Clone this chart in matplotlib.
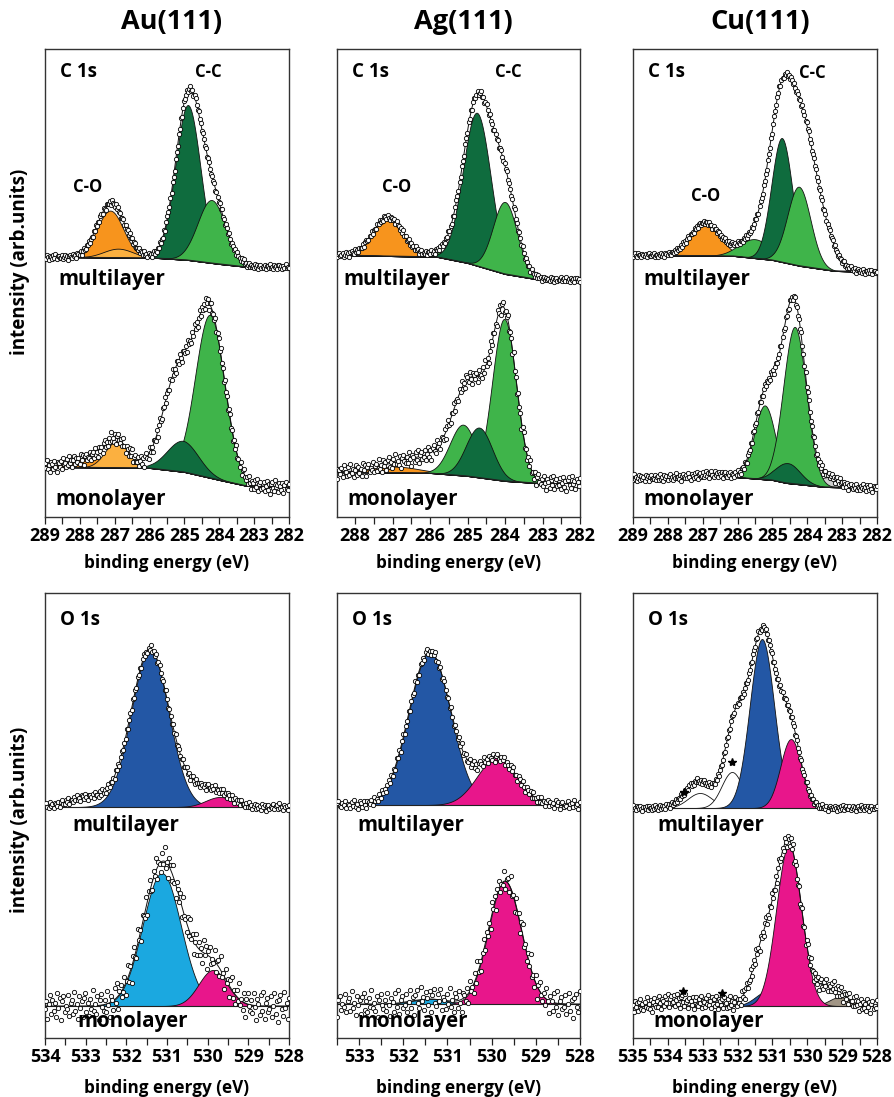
import numpy as np
import matplotlib
matplotlib.use("Agg")
from matplotlib import pyplot as plt
from matplotlib.ticker import MultipleLocator

W, H = 895, 1097

# typed scatter of the measured points around the fit envelope (units of noise level)
scatter = [0.3, -0.5, 0.8, -0.1, -0.9, 0.4, 0.1, -0.6, 0.7, -0.3,
           0.9, -0.8, 0.2, 0.5, -0.4, -0.2, 0.6, -0.7, 0.0, 0.8,
           -0.5, 0.3, -1.0, 0.4, 0.7, -0.2, -0.6, 0.9, -0.1, 0.2,
           -0.8, 0.5, 0.1, -0.4, 0.6, -0.9, 0.3, 0.7, -0.3, -0.5,
           0.4, -0.1, 0.8, -0.7, 0.2, 0.0, -0.6, 0.5, -0.2, 0.9,
           -0.4, 0.1, -0.8, 0.6, 0.3, -0.5, 0.7, -0.2, -0.9, 0.4,
           0.2, -0.3, 0.5, -0.7, 0.8, -0.1, 0.0, -0.6, 0.6, -0.4,
           0.9, -0.2, 0.3, -0.8, 0.1, 0.7, -0.5, 0.4, -0.3, 0.2,
           -0.7, 0.8, -0.1, 0.5, -0.9, 0.3, 0.6, -0.4, 0.0, -0.2,
           0.7, -0.6, 0.2, 0.4, -0.5, 0.9, -0.3, 0.1, -0.8, 0.6,
           -0.1, 0.3, -0.7, 0.5, 0.8, -0.4, 0.2, -0.6, 0.4, -0.2,
           1.0, -0.3, 0.1, -0.5, 0.6, -0.9, 0.3, 0.7, -0.1, -0.4]

substrates = ["Au(111)", "Ag(111)", "Cu(111)"]
c_xlims = [(289, 282), (288.48, 282), (289, 282)]
o_xlims = [(534, 528), (533.5, 528), (535, 528)]

# ---- C 1s ----
au_c_ml_bg_e = [289.0, 285.8, 284.9, 284.0, 283.2, 282.0]
au_c_ml_bg_y = [260, 259, 257, 253, 250, 250]
au_c_ml_kind = ["CO", "CO2", "CC", "CC2"]
au_c_ml_pos = [287.13, 286.9, 284.9, 284.22]
au_c_ml_amp = [47, 9, 155, 63]
au_c_ml_wid = [0.38, 0.42, 0.36, 0.40]

au_c_mo_bg_e = [289.0, 286.0, 285.0, 284.0, 283.2, 282.0]
au_c_mo_bg_y = [50, 49, 45, 37, 31, 30]
au_c_mo_kind = ["CO", "CO2", "fit", "CC2", "CC"]
au_c_mo_pos = [287.7, 286.95, 285.25, 284.27, 285.05]
au_c_mo_amp = [9, 26, 65, 163, 31]
au_c_mo_wid = [0.55, 0.33, 0.40, 0.42, 0.45]

ag_c_ml_bg_e = [288.5, 285.8, 285.0, 284.0, 283.2, 282.0]
ag_c_ml_bg_y = [262, 260, 254, 243, 238, 237]
ag_c_ml_kind = ["CO", "CC2", "CC", "fit", "CC2"]
ag_c_ml_pos = [287.12, 285.39, 284.75, 284.3, 284.0]
ag_c_ml_amp = [39, 7, 153, 22, 72]
ag_c_ml_wid = [0.40, 0.45, 0.37, 0.40, 0.32]

ag_c_mo_bg_e = [288.5, 286.0, 285.0, 284.0, 283.2, 282.0]
ag_c_mo_bg_y = [45, 44, 41, 36, 34, 34]
ag_c_mo_kind = ["CO", "fit", "CC2", "CC2", "CC"]
ag_c_mo_pos = [286.9, 285.6, 285.12, 284.02, 284.69]
ag_c_mo_amp = [6, 18, 51, 162, 50]
ag_c_mo_wid = [0.60, 0.80, 0.35, 0.32, 0.35]

cu_c_ml_bg_e = [289.0, 286.1, 285.0, 284.2, 283.2, 282.0]
cu_c_ml_bg_y = [262, 261, 257, 251, 246, 245]
cu_c_ml_kind = ["CO", "CC2", "fit", "CC", "fit", "CC2"]
cu_c_ml_pos = [286.94, 285.5, 285.1, 284.73, 283.9, 284.24]
cu_c_ml_amp = [33, 19, 30, 124, 75, 79]
cu_c_ml_wid = [0.42, 0.45, 0.30, 0.30, 0.45, 0.33]

cu_c_mo_bg_e = [289.0, 286.1, 285.0, 284.6, 283.5, 282.0]
cu_c_mo_bg_y = [39, 40, 37, 34, 30, 29]
cu_c_mo_kind = ["CO", "CC2", "fit", "G", "CC2", "CC"]
cu_c_mo_pos = [286.7, 285.22, 284.8, 283.4, 284.36, 284.56]
cu_c_mo_amp = [3, 74, 20, 10, 157, 20]
cu_c_mo_wid = [0.50, 0.30, 0.35, 0.30, 0.33, 0.35]

# ---- O 1s ----
au_o_ml_bg_e = [534.0, 528.0]
au_o_ml_bg_y = [231, 231]
au_o_ml_kind = ["fit", "O", "fit", "OM"]
au_o_ml_pos = [532.9, 531.42, 530.3, 529.7]
au_o_ml_amp = [10, 157, 15, 10]
au_o_ml_wid = [0.50, 0.46, 0.45, 0.35]

au_o_mo_bg_e = [534.0, 528.0]
au_o_mo_bg_y = [32, 32]
au_o_mo_kind = ["O2", "fit", "OM"]
au_o_mo_pos = [531.13, 530.6, 529.87]
au_o_mo_amp = [133, 20, 36]
au_o_mo_wid = [0.47, 0.50, 0.35]

ag_o_ml_bg_e = [533.5, 528.0]
ag_o_ml_bg_y = [233, 233]
ag_o_ml_kind = ["O", "OM"]
ag_o_ml_pos = [531.4, 529.88]
ag_o_ml_amp = [153, 47]
ag_o_ml_wid = [0.47, 0.45]

ag_o_mo_bg_e = [533.5, 528.0]
ag_o_mo_bg_y = [34, 34]
ag_o_mo_kind = ["O2", "OM"]
ag_o_mo_pos = [531.4, 529.7]
ag_o_mo_amp = [5, 123]
ag_o_mo_wid = [0.40, 0.37]

cu_o_ml_bg_e = [535.0, 528.0]
cu_o_ml_bg_y = [230, 230]
cu_o_ml_kind = ["fit", "sat", "sat", "fit", "O", "fit", "OM"]
cu_o_ml_pos = [533.2, 533.08, 532.16, 532.0, 531.3, 530.8, 530.47]
cu_o_ml_amp = [12, 15, 36, 50, 169, 25, 69]
cu_o_ml_wid = [0.40, 0.35, 0.30, 0.30, 0.35, 0.30, 0.30]
cu_o_ml_star = [533.55, 532.15]

cu_o_mo_bg_e = [535.0, 528.0]
cu_o_mo_bg_y = [32, 32]
cu_o_mo_kind = ["sat", "sat", "fit", "O", "fit", "OX", "OM"]
cu_o_mo_pos = [533.8, 532.7, 531.3, 531.13, 529.5, 529.07, 530.53]
cu_o_mo_amp = [6, 4, 40, 15, 15, 9, 161]
cu_o_mo_wid = [0.40, 0.40, 0.30, 0.35, 0.30, 0.30, 0.36]
cu_o_mo_star = [533.57, 532.45]

# noise level of the points for each spectrum
noise_c_ml = [3, 3, 2.5]
noise_c_mo = [7, 8, 4]
noise_o_ml = [4, 5, 3]
noise_o_mo = [16, 14, 8]

colors = {"CO": "#f7941d", "CO2": "#fbb040", "CC": "#0f6c3e", "CC2": "#3fb44a",
          "O": "#2357a5", "O2": "#1ba8e0", "OM": "#e8168b", "OX": "#a19585",
          "G": "#cfcfcf", "sat": "white"}

plt.rcParams['font.family'] = ['Open Sans', 'DejaVu Sans']
plt.rcParams['font.weight'] = 'bold'


def gauss(e, pos, amp, wid):
    return amp * np.exp(-(e - pos) ** 2 / (2 * wid ** 2))


def draw_spectrum(ax, xlim, bg_e, bg_y, kind, pos, amp, wid, noise, shift, stars=None):
    e = np.linspace(xlim[1], xlim[0], 800)
    bg = np.interp(e, bg_e[::-1], bg_y[::-1])
    total = np.zeros_like(e)
    sat = np.zeros_like(e)
    for k, p, a, w in zip(kind, pos, amp, wid):
        g = gauss(e, p, a, w)
        total += g
        if k == "fit":
            continue
        if k == "sat":
            sat += g
        ax.fill_between(e, bg, bg + g, facecolor=colors[k], edgecolor="#111111",
                        linewidth=0.6, zorder=1)
    ax.plot(e, bg, color="#222222", lw=0.8, zorder=2)
    ax.plot(e, bg + total, color="#111111", lw=0.7, zorder=3)

    ed = np.arange(xlim[0], xlim[1] - 1e-6, -0.03)
    env = np.interp(ed, e, bg + total)
    res = np.array([scatter[(i + shift) % len(scatter)] for i in range(len(ed))])
    ax.plot(ed, env + noise * res, 'o', ms=3.1, mfc='white', mec='black',
            mew=0.6, zorder=4)

    if stars is not None:
        se = np.array(stars)
        sy = np.interp(se, e, bg + sat) + 10
        ax.plot(se, sy, '*', ms=6, color='black', zorder=5)


fig = plt.figure(figsize=(W / 100, H / 100), dpi=100)

col_left = [45, 337, 633]
col_width = [244, 243, 244]
rows = [(49, 517), (593, 1038)]
xlabel_y = [563, 1088]


def fx(x):
    return x / W


def fy(y):
    return 1 - y / H


c_specs = [
    (au_c_ml_bg_e, au_c_ml_bg_y, au_c_ml_kind, au_c_ml_pos, au_c_ml_amp, au_c_ml_wid,
     au_c_mo_bg_e, au_c_mo_bg_y, au_c_mo_kind, au_c_mo_pos, au_c_mo_amp, au_c_mo_wid),
    (ag_c_ml_bg_e, ag_c_ml_bg_y, ag_c_ml_kind, ag_c_ml_pos, ag_c_ml_amp, ag_c_ml_wid,
     ag_c_mo_bg_e, ag_c_mo_bg_y, ag_c_mo_kind, ag_c_mo_pos, ag_c_mo_amp, ag_c_mo_wid),
    (cu_c_ml_bg_e, cu_c_ml_bg_y, cu_c_ml_kind, cu_c_ml_pos, cu_c_ml_amp, cu_c_ml_wid,
     cu_c_mo_bg_e, cu_c_mo_bg_y, cu_c_mo_kind, cu_c_mo_pos, cu_c_mo_amp, cu_c_mo_wid),
]
o_specs = [
    (au_o_ml_bg_e, au_o_ml_bg_y, au_o_ml_kind, au_o_ml_pos, au_o_ml_amp, au_o_ml_wid,
     au_o_mo_bg_e, au_o_mo_bg_y, au_o_mo_kind, au_o_mo_pos, au_o_mo_amp, au_o_mo_wid),
    (ag_o_ml_bg_e, ag_o_ml_bg_y, ag_o_ml_kind, ag_o_ml_pos, ag_o_ml_amp, ag_o_ml_wid,
     ag_o_mo_bg_e, ag_o_mo_bg_y, ag_o_mo_kind, ag_o_mo_pos, ag_o_mo_amp, ag_o_mo_wid),
    (cu_o_ml_bg_e, cu_o_ml_bg_y, cu_o_ml_kind, cu_o_ml_pos, cu_o_ml_amp, cu_o_ml_wid,
     cu_o_mo_bg_e, cu_o_mo_bg_y, cu_o_mo_kind, cu_o_mo_pos, cu_o_mo_amp, cu_o_mo_wid),
]
o_stars = [(None, None), (None, None), (cu_o_ml_star, cu_o_mo_star)]

for r, (top, bot) in enumerate(rows):
    for c in range(3):
        ax = fig.add_axes([fx(col_left[c]), fy(bot), col_width[c] / W, (bot - top) / H])
        if r == 0:
            xlim = c_xlims[c]
            s = c_specs[c]
            draw_spectrum(ax, xlim, *s[:6], noise_c_ml[c], 11 * c)
            draw_spectrum(ax, xlim, *s[6:], noise_c_mo[c], 11 * c + 47)
        else:
            xlim = o_xlims[c]
            s = o_specs[c]
            draw_spectrum(ax, xlim, *s[:6], noise_o_ml[c], 13 * c + 23, o_stars[c][0])
            draw_spectrum(ax, xlim, *s[6:], noise_o_mo[c], 13 * c + 71, o_stars[c][1])
        ax.set_xlim(*xlim)
        ax.set_ylim(0, bot - top)
        ax.set_yticks([])
        ax.xaxis.set_major_locator(MultipleLocator(1))
        ax.xaxis.set_minor_locator(MultipleLocator(0.5))
        ax.tick_params(axis='x', which='both', direction='out', length=5, width=0.9,
                       color='#222222', labelsize=13, pad=2.5)
        ax.xaxis.set_major_formatter(plt.FuncFormatter(lambda v, p: f"{v:.0f}"))
        for sp in ax.spines.values():
            sp.set_linewidth(1.0)
            sp.set_color('#333333')

        cx = col_left[c] + col_width[c] / 2
        fig.text(fx(cx), fy(xlabel_y[r]), "binding energy (eV)",
                 ha='center', va='center', fontsize=12.3)

# titles
for c in range(3):
    cx = col_left[c] + col_width[c] / 2
    fig.text(fx(cx + 5), fy(22), substrates[c], ha='center', va='center', fontsize=19.5)

# row annotations
for c in range(3):
    x0 = col_left[c] + 15
    fig.text(fx(x0), fy(72), "C 1s", ha='left', va='center', fontsize=13.5)
    fig.text(fx(x0), fy(620), "O 1s", ha='left', va='center', fontsize=13.5)
    fig.text(fx(col_left[c] + [13, 6, 10][c]), fy(280), "multilayer", ha='left', va='center', fontsize=14.8)
    fig.text(fx(col_left[c] + [10, 10, 10][c]), fy(500), "monolayer", ha='left', va='center', fontsize=14.8)
    fig.text(fx(col_left[c] + [27, 20, 24][c]), fy(826), "multilayer", ha='left', va='center', fontsize=14.8)
    fig.text(fx(col_left[c] + [32, 20, 20][c]), fy(1022), "monolayer", ha='left', va='center', fontsize=14.8)

cc_xy = [(208, 72), (508, 72), (812, 73)]
co_xy = [(88, 187), (397, 187), (706, 196)]
for (x, y) in cc_xy:
    fig.text(fx(x), fy(y), "C-C", ha='center', va='center', fontsize=12)
for (x, y) in co_xy:
    fig.text(fx(x), fy(y), "C-O", ha='center', va='center', fontsize=12)

fig.text(fx(20), fy(262), "intensity (arb.units)", rotation=90, ha='center', va='center', fontsize=13.5)
fig.text(fx(20), fy(820), "intensity (arb.units)", rotation=90, ha='center', va='center', fontsize=13.5)

fig.savefig("out.png", dpi=100)
